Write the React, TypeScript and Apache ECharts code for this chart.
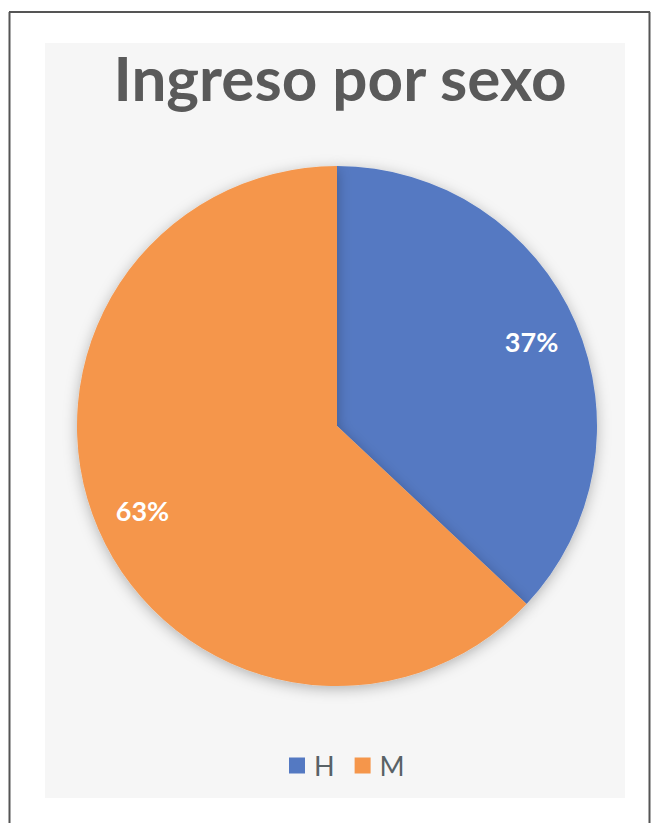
import React, { useEffect, useRef } from "react";
import * as echarts from "echarts";

const titleText = "Ingreso por sexo";
const categories = ["H", "M"];
const values = [37, 63];
const colors = ["#5479C2", "#F5964B"];

export default function App() {
  const ref = useRef<HTMLDivElement>(null);
  useEffect(() => {
    if (!ref.current) return;
    const chart = echarts.init(ref.current, undefined, { renderer: "svg" });
    const data = categories.map((c, i) => ({ name: c, value: values[i], itemStyle: { color: colors[i] } }));
    chart.setOption({
      animation: false,
      backgroundColor: "#ffffff",
      graphic: [
        { type: "rect", shape: { x: 45, y: 43, width: 580, height: 755 }, style: { fill: "#F6F6F6" }, z: -10 },
        { type: "line", shape: { x1: 9.5, y1: 12, x2: 9.5, y2: 823 }, style: { stroke: "#555555", lineWidth: 2 } },
        { type: "line", shape: { x1: 9, y1: 12, x2: 650, y2: 12 }, style: { stroke: "#555555", lineWidth: 2 } },
        { type: "line", shape: { x1: 649.5, y1: 12, x2: 649.5, y2: 823 }, style: { stroke: "#555555", lineWidth: 2 } },
      ],
      title: {
        text: titleText,
        left: 335,
        top: 72,
        textAlign: "center",
        textVerticalAlign: "middle",
        textStyle: { fontFamily: "Lato", fontWeight: "bold", fontSize: 62, color: "#5A5A5A" },
      },
      legend: {
        data: categories,
        left: 284,
        top: 747,
        icon: "rect",
        itemWidth: 16,
        itemHeight: 16,
        itemGap: 20,
        textStyle: { fontFamily: "Lato", fontSize: 27, color: "#596266", padding: [0, 0, 0, 4] },
      },
      series: [
        {
          type: "pie",
          center: [337, 426],
          radius: [0, 260],
          startAngle: 90,
          data,
          label: { show: false },
          labelLine: { show: false },
          itemStyle: { shadowBlur: 14, shadowColor: "rgba(0,0,0,0.28)", shadowOffsetY: 3 },
          emphasis: { disabled: true },
        },
        {
          type: "pie",
          center: [337, 426],
          radius: [158, 260],
          startAngle: 90,
          silent: true,
          data: categories.map((c, i) => ({ name: c, value: values[i] })),
          itemStyle: { color: "rgba(0,0,0,0)" },
          label: {
            show: true,
            position: "inside",
            formatter: "{d}%",
            fontFamily: "Lato",
            fontWeight: "bold",
            fontSize: 27,
            color: "#ffffff",
          },
          labelLine: { show: false },
          emphasis: { disabled: true },
        },
      ],
    });
    return () => chart.dispose();
  }, []);
  return (
    <div
      ref={ref}
      style={{ position: "absolute", left: 0, top: 0, width: 654, height: 823 }}
    />
  );
}
